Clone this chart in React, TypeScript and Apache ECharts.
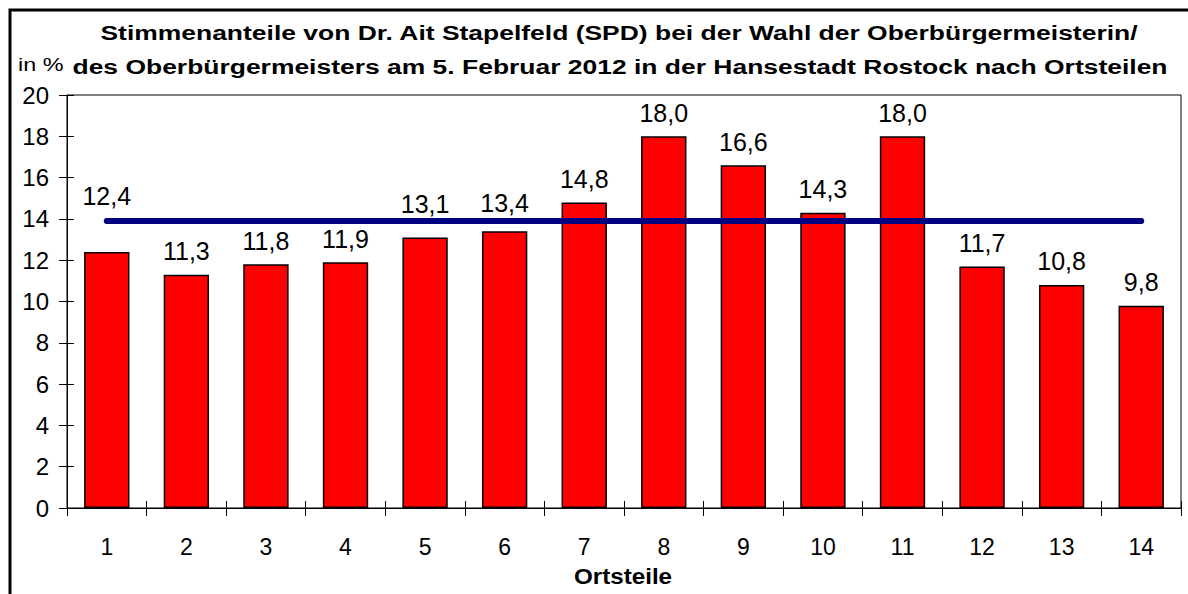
import React, { useEffect, useRef } from "react";
import * as echarts from "echarts";

const categories = ["1", "2", "3", "4", "5", "6", "7", "8", "9", "10", "11", "12", "13", "14"];
const shares = [12.4, 11.3, 11.8, 11.9, 13.1, 13.4, 14.8, 18.0, 16.6, 14.3, 18.0, 11.7, 10.8, 9.8];
const cityAverage = [13.9, 13.9, 13.9, 13.9, 13.9, 13.9, 13.9, 13.9, 13.9, 13.9, 13.9, 13.9, 13.9, 13.9];
const titleLines = [
  "Stimmenanteile von Dr. Ait Stapelfeld (SPD) bei der Wahl der Oberbürgermeisterin/",
  "des Oberbürgermeisters am 5. Februar 2012 in der Hansestadt Rostock nach Ortsteilen",
];
const yUnit = "in %";
const xName = "Ortsteile";

const FONT = "'Liberation Sans', Arial, sans-serif";
// extra upward shift of labels that sit under the average line
const labelLift: Record<number, number> = { 0: 32, 4: 10, 5: 5 };

export default function App() {
  const ref = useRef<HTMLDivElement>(null);
  useEffect(() => {
    if (!ref.current) return;
    const chart = echarts.init(ref.current, null, { renderer: "svg" });
    const fmt = (v: number) => v.toFixed(1).replace(".", ",");
    chart.setOption({
      animation: false,
      backgroundColor: "#fff",
      grid: {
        left: 67,
        top: 95,
        right: 7,
        bottom: 86,
        show: true,
        borderColor: "#000",
        borderWidth: 1,
        containLabel: false,
      },
      graphic: [
        {
          type: "rect",
          shape: { x: 10, y: 10, width: 1400, height: 800 },
          style: { fill: "none", stroke: "#000", lineWidth: 3 },
          silent: true,
        },
        {
          type: "text",
          x: 619,
          y: 33,
          scaleX: 1.26,
          style: {
            text: titleLines[0],
            font: `bold 21px ${FONT}`,
            fill: "#000",
            textAlign: "center",
            textVerticalAlign: "middle",
          },
        },
        {
          type: "text",
          x: 620,
          y: 67,
          scaleX: 1.26,
          style: {
            text: titleLines[1],
            font: `bold 21px ${FONT}`,
            fill: "#000",
            textAlign: "center",
            textVerticalAlign: "middle",
          },
        },
        {
          type: "text",
          x: 18,
          y: 65,
          scaleX: 1.3,
          style: {
            text: yUnit,
            font: `18px ${FONT}`,
            fill: "#000",
            textAlign: "left",
            textVerticalAlign: "middle",
          },
        },
        {
          type: "text",
          x: 623,
          y: 576,
          scaleX: 1.1,
          style: {
            text: xName,
            font: `bold 22px ${FONT}`,
            fill: "#000",
            textAlign: "center",
            textVerticalAlign: "middle",
          },
        },
      ],
      xAxis: [
        {
          type: "category",
          data: categories,
          boundaryGap: true,
          axisLine: { show: true, lineStyle: { color: "#000", width: 1 } },
          axisTick: { show: true, inside: false, length: 8, lineStyle: { color: "#000" } },
          axisLabel: { color: "#000", fontSize: 23, fontFamily: FONT, margin: 27 },
          splitLine: { show: false },
        },
        {
          type: "category",
          data: categories,
          position: "bottom",
          boundaryGap: true,
          axisLine: { show: false },
          axisTick: { show: true, inside: true, length: 7, lineStyle: { color: "#000" } },
          axisLabel: { show: false },
          splitLine: { show: false },
        },
      ],
      yAxis: [
        {
          type: "value",
          min: 0,
          max: 20,
          interval: 2,
          axisLine: { show: true, lineStyle: { color: "#000", width: 1 } },
          axisTick: { show: true, inside: false, length: 8, lineStyle: { color: "#000" } },
          axisLabel: { color: "#000", fontSize: 24, fontFamily: FONT, margin: 18 },
          splitLine: { show: false },
        },
        {
          type: "value",
          position: "left",
          min: 0,
          max: 20,
          interval: 2,
          axisLine: { show: false },
          axisTick: { show: true, inside: true, length: 7, lineStyle: { color: "#000" } },
          axisLabel: { show: false },
          splitLine: { show: false },
        },
      ],
      series: [
        {
          type: "bar",
          xAxisIndex: 0,
          yAxisIndex: 0,
          barCategoryGap: "43%",
          data: shares.map((v, i) => ({
            value: v,
            label: { offset: [0, -(labelLift[i] || 0)] },
          })),
          itemStyle: { color: "#ff0000", borderColor: "#000", borderWidth: 1.5 },
          label: {
            show: true,
            position: "top",
            distance: 11,
            color: "#000",
            fontSize: 25,
            fontFamily: FONT,
            formatter: (p: any) => fmt(p.value),
          },
          z: 2,
        },
        {
          type: "line",
          xAxisIndex: 0,
          yAxisIndex: 0,
          data: cityAverage,
          symbol: "none",
          lineStyle: { color: "#000080", width: 6, cap: "round" },
          z: 3,
        },
      ],
    });
    return () => chart.dispose();
  }, []);
  return (
    <div
      ref={ref}
      style={{ position: "absolute", left: 0, top: 0, width: 1188, height: 594 }}
    />
  );
}
